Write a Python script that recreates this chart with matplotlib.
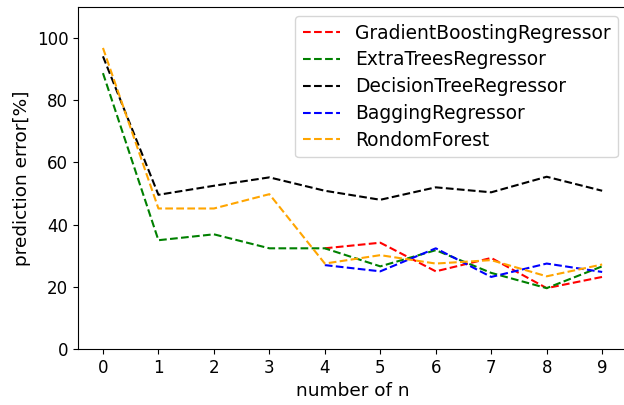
import matplotlib
matplotlib.use("Agg")
import matplotlib.pyplot as plt
import numpy as np

n = list(range(10))

# red and blue only start at n=4
gradient_boosting = [np.nan, np.nan, np.nan, np.nan, 32.4, 34.2, 25.0, 29.3, 19.6, 23.2]
extra_trees = [88.7, 35.0, 36.9, 32.4, 32.4, 26.6, 31.8, 24.5, 19.6, 26.6]
decision_tree = [94.1, 49.6, 52.5, 55.2, 50.9, 48.0, 52.0, 50.4, 55.4, 50.9]
bagging = [np.nan, np.nan, np.nan, np.nan, 27.0, 25.0, 32.4, 23.2, 27.5, 24.8]
random_forest = [96.8, 45.2, 45.2, 49.8, 27.5, 30.2, 27.5, 28.6, 23.4, 27.2]

series = [
    ("GradientBoostingRegressor", gradient_boosting, "red"),
    ("ExtraTreesRegressor", extra_trees, "green"),
    ("DecisionTreeRegressor", decision_tree, "black"),
    ("BaggingRegressor", bagging, "blue"),
    ("RondomForest", random_forest, "orange"),
]

plt.rcParams["font.size"] = 12

fig, ax = plt.subplots(figsize=(6.24, 4.05), dpi=100)
# the original picture is cropped: the right spine falls just outside
fig.subplots_adjust(left=0.125, right=1.005, bottom=0.138, top=0.983)

for label, values, color in series:
    ax.plot(n, values, "--", color=color, label=label, linewidth=1.5)

ax.set_ylim(0, 110)
ax.set_xticks(n)
ax.set_xlabel("number of n", fontsize=13.3)
ax.set_ylabel("prediction error[%]", fontsize=13.3)
ax.legend(loc="upper right", fontsize=13.4, labelspacing=0.42)

fig.savefig("out.png")
